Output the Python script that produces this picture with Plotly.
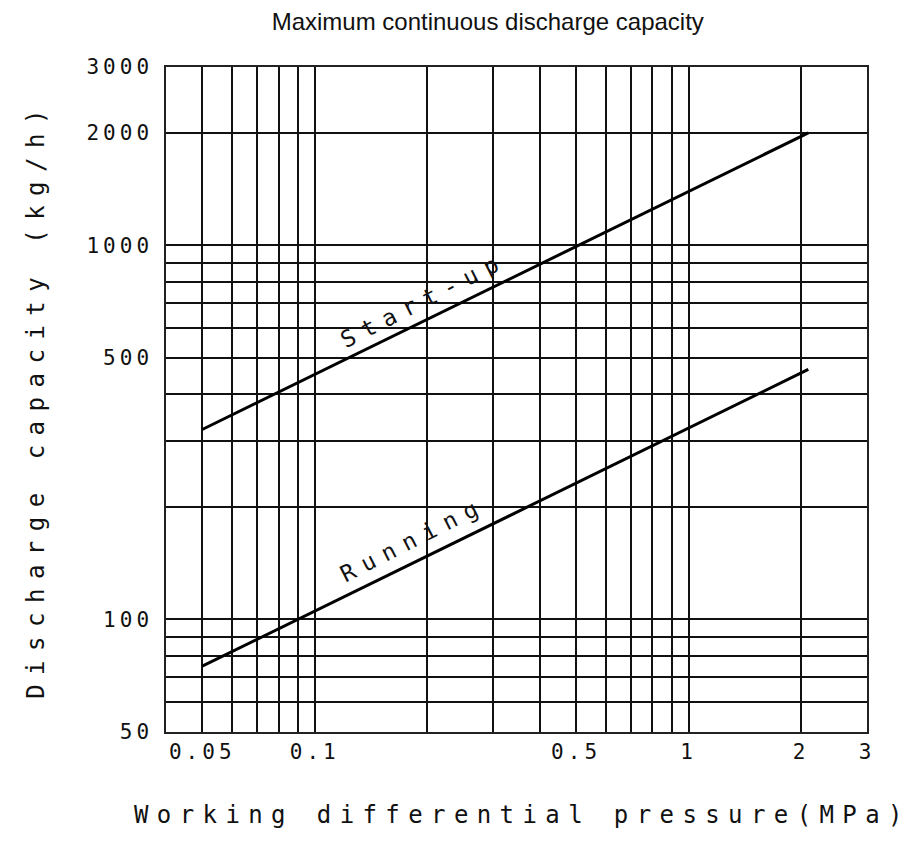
import plotly.graph_objects as go

# Data
startup_x = [0.05, 2.09]
startup_y = [322, 2000]
running_x = [0.05, 2.09]
running_y = [75, 466]

x_major = [0.05, 0.1, 0.5, 1, 2, 3]
x_major_text = ["0.05", "0.1", "0.5", "1", "2", "3"]
x_minor = [0.06, 0.07, 0.08, 0.09, 0.2, 0.3, 0.4, 0.6, 0.7, 0.8, 0.9]
y_major = [50, 100, 500, 1000, 2000, 3000]
y_major_text = ["50", "100", "500", "1000", "2000", "3000"]
y_minor = [60, 70, 80, 90, 200, 300, 400, 600, 700, 800, 900]

CAD = "DejaVu Sans Mono"
W, H = 899, 831  # page body has an 8px margin

def spaced(t, ls):
    return f'<span style="letter-spacing:{ls}px">{t}</span>'

def spaced_tight(t, ls):
    # letter spacing without trailing space after the last character
    return f'<span style="letter-spacing:{ls}px">{t[:-1]}</span>{t[-1]}'

fig = go.Figure()
for xs, ys in [(startup_x, startup_y), (running_x, running_y)]:
    fig.add_trace(go.Scatter(x=xs, y=ys, mode="lines",
                             line=dict(color="black", width=3),
                             showlegend=False, hoverinfo="skip"))

axis_common = dict(
    type="log", showline=True, mirror=True, linecolor="#222", linewidth=1.5,
    showgrid=True, gridcolor="#111", gridwidth=1.5, ticks="", ticklen=0,
    zeroline=False, automargin=False,
    tickfont=dict(family=CAD, size=21, color="#111"),
)

fig.update_xaxes(
    **axis_common,
    range=[-1.39794, 0.4771213],
    tickmode="array", tickvals=x_major,
    ticktext=[spaced(t, 4) for t in x_major_text],
    ticklabelstandoff=0,
    minor=dict(tickmode="array", tickvals=x_minor, showgrid=True,
               gridcolor="#111", gridwidth=1.5, ticks=""),
)
fig.update_yaxes(
    **axis_common,
    range=[1.69897, 3.4771213],
    tickmode="array", tickvals=y_major,
    ticktext=[spaced(t, 4) for t in y_major_text],
    ticklabelstandoff=7,
    minor=dict(tickmode="array", tickvals=y_minor, showgrid=True,
               gridcolor="#111", gridwidth=1.5, ticks=""),
    title=dict(text=spaced("Discharge capacity (kg/h)", 9.5),
               font=dict(family=CAD, size=24, color="#111"), standoff=35),
)

# x-axis title
fig.add_annotation(x=0.5, y=0, xref="paper", yref="paper", xanchor="center",
                   yanchor="middle", xshift=1.5, yshift=-83, showarrow=False,
                   text=spaced_tight("Working differential pressure(MPa)", 8.4),
                   font=dict(family=CAD, size=24, color="#111"))

fig.add_annotation(x=-0.71, y=2.855, xref="x", yref="y", text=spaced("Start-up", 9),
                   showarrow=False, textangle=-27,
                   font=dict(family=CAD, size=23, color="#111"))
fig.add_annotation(x=-0.736, y=2.215, xref="x", yref="y", text=spaced("Running", 9),
                   showarrow=False, textangle=-27,
                   font=dict(family=CAD, size=23, color="#111"))

fig.update_layout(
    width=W, height=H,
    margin=dict(l=158, r=40, t=59, b=107, autoexpand=False),
    paper_bgcolor="white", plot_bgcolor="white",
    title=dict(text="Maximum continuous discharge capacity",
               font=dict(family="Liberation Sans, Arial", size=24, color="#111"),
               x=0.459, xanchor="center", xref="paper", y=1 - 14 / H, yanchor="middle"),
)
fig.write_html("out.html")
